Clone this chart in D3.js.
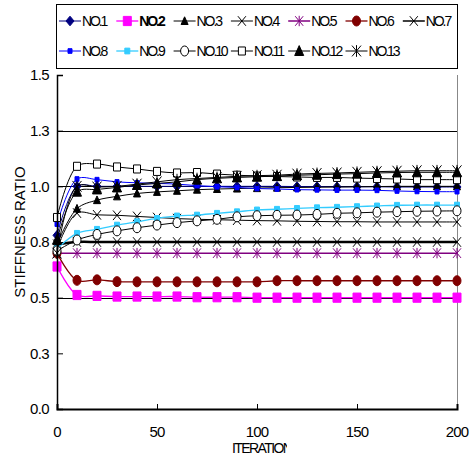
<!DOCTYPE html>
<html><head><meta charset="utf-8">
<script src="https://cdn.jsdelivr.net/npm/d3@7"></script>
<style>body{margin:0;background:#fff}svg{display:block;font-family:"Liberation Sans",Arial,sans-serif}</style>
</head><body><svg id="c" width="476" height="462"></svg>
<script>
const iterations = [0,10,20,30,40,50,60,70,80,90,100,110,120,130,140,150,160,170,180,190,200];
const seriesNames = ["NO.1","NO.2","NO.3","NO.4","NO.5","NO.6","NO.7","NO.8","NO.9","NO.10","NO.11","NO.12","NO.13"];
const no1  = [0.78,1.000,1.000,1.000,1.000,1.000,1.000,1.000,1.000,1.000,1.000,1.000,0.999,0.999,0.998,0.998,0.998,0.997,0.997,0.997,0.997];
const no2  = [0.64,0.512,0.508,0.505,0.505,0.505,0.505,0.502,0.502,0.502,0.500,0.500,0.500,0.500,0.500,0.500,0.500,0.500,0.500,0.500,0.500];
const no3  = [0.74,0.900,0.938,0.955,0.968,0.975,0.980,0.985,0.988,0.990,0.992,0.994,0.995,0.996,0.997,0.998,0.999,1.000,1.000,1.000,1.000];
const no4  = [0.72,0.880,0.872,0.870,0.865,0.860,0.855,0.852,0.850,0.848,0.846,0.845,0.843,0.842,0.841,0.841,0.840,0.840,0.840,0.840,0.840];
const no5  = [0.70,0.700,0.700,0.700,0.700,0.700,0.700,0.700,0.700,0.700,0.700,0.700,0.700,0.700,0.700,0.700,0.700,0.700,0.700,0.700,0.700];
const no6  = [0.70,0.578,0.580,0.572,0.571,0.571,0.571,0.571,0.571,0.571,0.571,0.576,0.576,0.576,0.576,0.576,0.576,0.576,0.576,0.576,0.576];
const no7  = [0.74,0.750,0.750,0.750,0.750,0.750,0.750,0.750,0.750,0.750,0.750,0.750,0.750,0.750,0.750,0.750,0.750,0.750,0.750,0.750,0.750];
const no8  = [0.83,1.033,1.030,1.020,1.016,1.013,1.010,1.003,0.998,0.995,0.990,0.988,0.985,0.984,0.983,0.983,0.982,0.979,0.977,0.976,0.976];
const no9  = [0.72,0.789,0.807,0.826,0.841,0.856,0.867,0.871,0.879,0.886,0.894,0.897,0.901,0.904,0.906,0.909,0.912,0.915,0.916,0.916,0.916];
const no10 = [0.71,0.759,0.784,0.800,0.814,0.826,0.837,0.845,0.852,0.863,0.868,0.870,0.871,0.874,0.879,0.881,0.884,0.886,0.888,0.889,0.890];
const no11 = [0.86,1.090,1.100,1.087,1.078,1.067,1.060,1.062,1.055,1.050,1.046,1.044,1.042,1.040,1.040,1.037,1.035,1.033,1.030,1.030,1.030];
const no12 = [0.76,0.976,0.986,0.995,1.006,1.013,1.020,1.030,1.036,1.040,1.043,1.046,1.050,1.052,1.055,1.057,1.060,1.062,1.063,1.063,1.063];
const no13 = [0.70,1.000,0.997,1.000,1.010,1.020,1.030,1.035,1.040,1.045,1.048,1.050,1.055,1.058,1.060,1.063,1.066,1.068,1.070,1.070,1.070];
const yTicks = [0,0.25,0.5,0.75,1.0,1.25,1.5];
const xTicks = [0,50,100,150,200];
const gridValues = [0.5,0.75,1.0,1.25];

const values = [no1,no2,no3,no4,no5,no6,no7,no8,no9,no10,no11,no12,no13];
const styles = [
  {color:"#000080", marker:"diamond", size:4, fill:true, width:1},
  {color:"#FF00FF", marker:"square", size:4, fill:true, width:1.3},
  {color:"#000000", marker:"triangle", size:3.5, fill:true, width:1},
  {color:"#000000", marker:"x", size:4, fill:false, width:1},
  {color:"#800080", marker:"star", size:4, fill:false, width:1.5},
  {color:"#800000", marker:"circle", size:4, fill:true, width:1.3},
  {color:"#000000", marker:"x", size:4, fill:false, width:2.5},
  {color:"#0000FF", marker:"square", size:2, fill:true, width:1},
  {color:"#33CCFF", marker:"square", size:2.5, fill:true, width:1.3},
  {color:"#000000", marker:"circle", size:4, fill:false, width:1},
  {color:"#000000", marker:"square", size:3.5, fill:false, width:1},
  {color:"#000000", marker:"triangle", size:4.5, fill:true, width:1},
  {color:"#000000", marker:"star", size:4.5, fill:false, width:1}
];

const svg = d3.select("#c");
const x = d3.scaleLinear().domain([0,200]).range([57,457]);
const y = d3.scaleLinear().domain([0,1.5]).range([409,75]);

svg.append("g").selectAll("line").data(gridValues).join("line")
  .attr("x1",57).attr("x2",457).attr("y1",d=>Math.round(y(d))+0.5).attr("y2",d=>Math.round(y(d))+0.5)
  .attr("stroke","#000").attr("stroke-width",1);
svg.append("line").attr("x1",457.5).attr("x2",457.5).attr("y1",75).attr("y2",409).attr("stroke","#888").attr("stroke-width",1);

function markerPath(type,s){
  switch(type){
    case "diamond": return `M0,${-s*1.2}L${s},0L0,${s*1.2}L${-s},0Z`;
    case "square": return `M${-s},${-s*1.15}H${s}V${s*1.15}H${-s}Z`;
    case "triangle": return `M0,${-s*1.2}L${s},${s}L${-s},${s}Z`;
    case "circle": return `M${-s},0A${s},${s*1.25} 0 1,0 ${s},0A${s},${s*1.25} 0 1,0 ${-s},0Z`;
    case "x": return `M${-s},${-s*1.2}L${s},${s*1.2}M${s},${-s*1.2}L${-s},${s*1.2}`;
    case "star": return `M${-s},${-s*1.2}L${s},${s*1.2}M${s},${-s*1.2}L${-s},${s*1.2}M0,${-s*1.3}V${s*1.3}`;
  }
}
function drawMarker(g,st,cx,cy){
  g.append("path").attr("transform",`translate(${cx},${cy})`).attr("d",markerPath(st.marker,st.size))
    .attr("fill", st.fill ? st.color : (st.marker==="circle"||st.marker==="square" ? "#fff" : "none"))
    .attr("stroke",st.color).attr("stroke-width",1);
}

const line = d3.line().x((d,i)=>x(iterations[i])).y(d=>y(d)).curve(d3.curveCatmullRom.alpha(0.5));
const plot = svg.append("g");
values.forEach((vals,k)=>{
  const st = styles[k];
  const g = plot.append("g");
  g.append("path").attr("d",line(vals)).attr("fill","none").attr("stroke",st.color).attr("stroke-width",st.width);
  vals.forEach((v,i)=>drawMarker(g,st,x(iterations[i]),y(v)));
});

const fmt = d => d3.format(".1f")(Math.round(d*10+1e-9)/10);
const yAxis = svg.append("g").attr("transform","translate(57,0)")
  .call(d3.axisRight(y).tickValues(yTicks).tickSize(6).tickFormat(""));
yAxis.select(".domain").attr("stroke","#000").attr("stroke-width",1.5);
yAxis.selectAll(".tick line").attr("stroke","#000");
svg.append("g").selectAll("text").data(yTicks).join("text")
  .attr("x",49).attr("y",d=>y(d)).attr("dy","0.36em").attr("text-anchor","end")
  .attr("font-size",15).attr("letter-spacing",-0.6).text(d=>fmt(d));

const xAxis = svg.append("g").attr("transform","translate(0,409)")
  .call(d3.axisTop(x).tickValues(xTicks).tickSize(5).tickFormat(""));
xAxis.select(".domain").attr("stroke","#000").attr("stroke-width",2);
xAxis.selectAll(".tick line").attr("stroke","#000");
svg.append("g").selectAll("text").data(xTicks).join("text")
  .attr("x",d=>x(d)).attr("y",437).attr("text-anchor","middle")
  .attr("font-size",15).attr("letter-spacing",-0.8).text(d=>d);

svg.append("text").attr("transform","translate(25,232) rotate(-90)").attr("text-anchor","middle")
  .attr("font-size",15).text("STIFFNESS RATIO");
svg.append("clipPath").attr("id","xc").append("rect").attr("x",220).attr("y",438).attr("width",67).attr("height",20);
svg.append("text").attr("clip-path","url(#xc)").attr("x",232).attr("y",453)
  .attr("font-size",14).attr("letter-spacing",-1.6).text("ITERATION");

svg.append("rect").attr("x",56.5).attr("y",4.5).attr("width",401).attr("height",64).attr("fill","#fff").attr("stroke","#000");
const leg = svg.append("g");
seriesNames.forEach((name,k)=>{
  const row = k<7?0:1, col = k<7?k:k-7;
  const lx = 59 + col*57.3, ly = row===0?21:51;
  const st = styles[k];
  const g = leg.append("g");
  g.append("line").attr("x1",lx).attr("x2",lx+22).attr("y1",ly).attr("y2",ly).attr("stroke",st.color).attr("stroke-width",Math.min(st.width,1.5));
  drawMarker(g,st,lx+11,ly);
  g.append("text").attr("x",lx+23).attr("y",ly).attr("dy","0.36em").attr("font-size",14)
    .attr("letter-spacing",-2.1).attr("font-weight",k===1?"bold":"normal").text(name);
});
</script></body></html>
